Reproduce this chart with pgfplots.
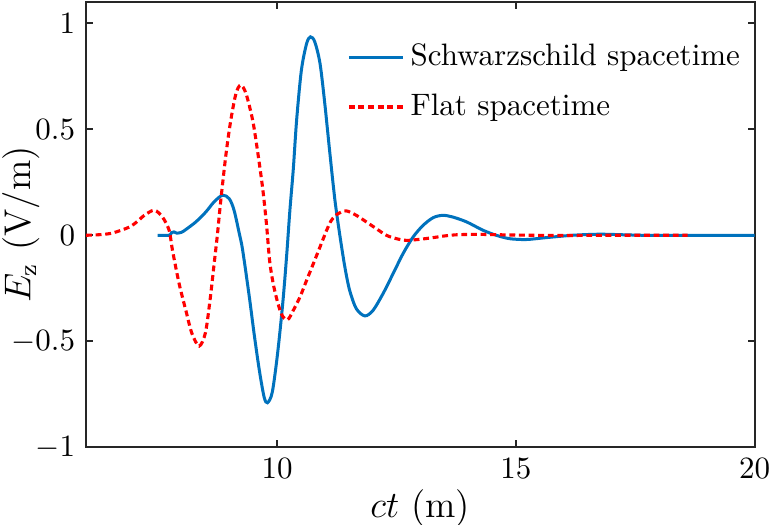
\documentclass[border=0pt]{standalone}
\usepackage{pgfplots}
\pgfplotsset{compat=1.18}
\definecolor{mblue}{RGB}{0,114,189}
\definecolor{axgray}{RGB}{38,38,38}
\begin{document}
\begin{tikzpicture}
\useasboundingbox (-27.74pt,-24.99pt) rectangle (220.9pt,144.3pt);
\begin{axis}[
  scale only axis,
  width=215.6pt, height=143.7pt,
  xmin=6, xmax=20, ymin=-1, ymax=1.1,
  xtick={10,15,20}, ytick={-1,-0.5,0,0.5,1},
  axis line style={axgray, line width=0.65pt},
  tick style={axgray, line width=0.65pt},
  major tick length=2.26pt,
  tick align=inside,
  xlabel={$ct$ (m)},
  ylabel={$E_{\mathrm{z}}$ (V/m)},
  label style={font=\large},
  xlabel style={at={(axis description cs:0.5,-0.158)}, anchor=base},
  ylabel style={at={(axis description cs:-0.097,0.5)}, anchor=center, rotate=0},
  legend style={draw=none, fill=none, at={(axis description cs:0.376,0.935)}, anchor=north west, row sep=3.6pt},
  legend cell align=left,
  legend image code/.code={\draw[#1] (0pt,0pt) -- (17.4pt,0pt);},
]
\addplot[mblue, line width=0.97pt, smooth] coordinates {
(7.50,0) (7.74,0) (7.79,0.012) (7.84,0.016) (7.90,0.01) (8.00,0.014) (8.09,0.027)
(8.30,0.063) (8.51,0.110) (8.68,0.157) (8.86,0.189) (9.00,0.172) (9.10,0.118)
(9.21,0.008) (9.28,-0.07) (9.42,-0.291) (9.52,-0.464) (9.63,-0.637) (9.73,-0.763)
(9.80,-0.789) (9.90,-0.74) (10.01,-0.56) (10.12,-0.32) (10.20,-0.10) (10.27,0.12)
(10.34,0.31) (10.41,0.542) (10.51,0.778) (10.62,0.904) (10.70,0.935) (10.79,0.912)
(10.90,0.81) (11.00,0.621) (11.10,0.401) (11.21,0.17) (11.31,0.008) (11.42,-0.149)
(11.52,-0.259) (11.66,-0.346) (11.84,-0.380) (12.01,-0.354) (12.22,-0.275)
(12.43,-0.181) (12.64,-0.086) (12.85,-0.008) (13.06,0.047) (13.27,0.083)
(13.47,0.094) (13.68,0.086) (13.97,0.063) (14.31,0.024) (14.59,0.0) (14.87,-0.016)
(15.22,-0.020) (15.64,-0.011) (16.19,0.0) (16.75,0.005) (17.31,0.002) (17.87,-0.001)
(18.5,0) (20.0,0)
};
\addlegendentry{Schwarzschild spacetime}
\addplot[red, line width=1.0pt, dash pattern=on 1.9pt off 1.2pt, smooth] coordinates {
(6.00,0) (6.30,0.003) (6.56,0.011) (6.91,0.039) (7.10,0.07) (7.22,0.094) (7.43,0.118)
(7.60,0.086) (7.74,0.024) (7.81,-0.07) (7.95,-0.228) (8.09,-0.354) (8.22,-0.464)
(8.37,-0.522) (8.50,-0.46) (8.60,-0.30) (8.68,-0.14) (8.75,0.0) (8.82,0.16)
(8.93,0.38) (9.03,0.54) (9.14,0.668) (9.24,0.708) (9.35,0.668) (9.49,0.542)
(9.59,0.40) (9.70,0.22) (9.78,0.05) (9.85,-0.13) (9.95,-0.26) (10.09,-0.37)
(10.22,-0.398) (10.34,-0.354) (10.48,-0.291) (10.62,-0.212) (10.76,-0.134)
(10.90,-0.055) (11.04,0.024) (11.14,0.071) (11.28,0.102) (11.45,0.115) (11.66,0.094)
(11.87,0.063) (12.08,0.031) (12.29,0.0) (12.50,-0.016) (12.71,-0.024) (12.99,-0.019)
(13.27,-0.011) (13.55,-0.002) (13.82,0.003) (14.3,0.004) (15.0,0.001) (16.0,-0.001)
(17.0,0.0) (18.6,0)
};
\addlegendentry{Flat spacetime}
\end{axis}
\end{tikzpicture}
\end{document}
